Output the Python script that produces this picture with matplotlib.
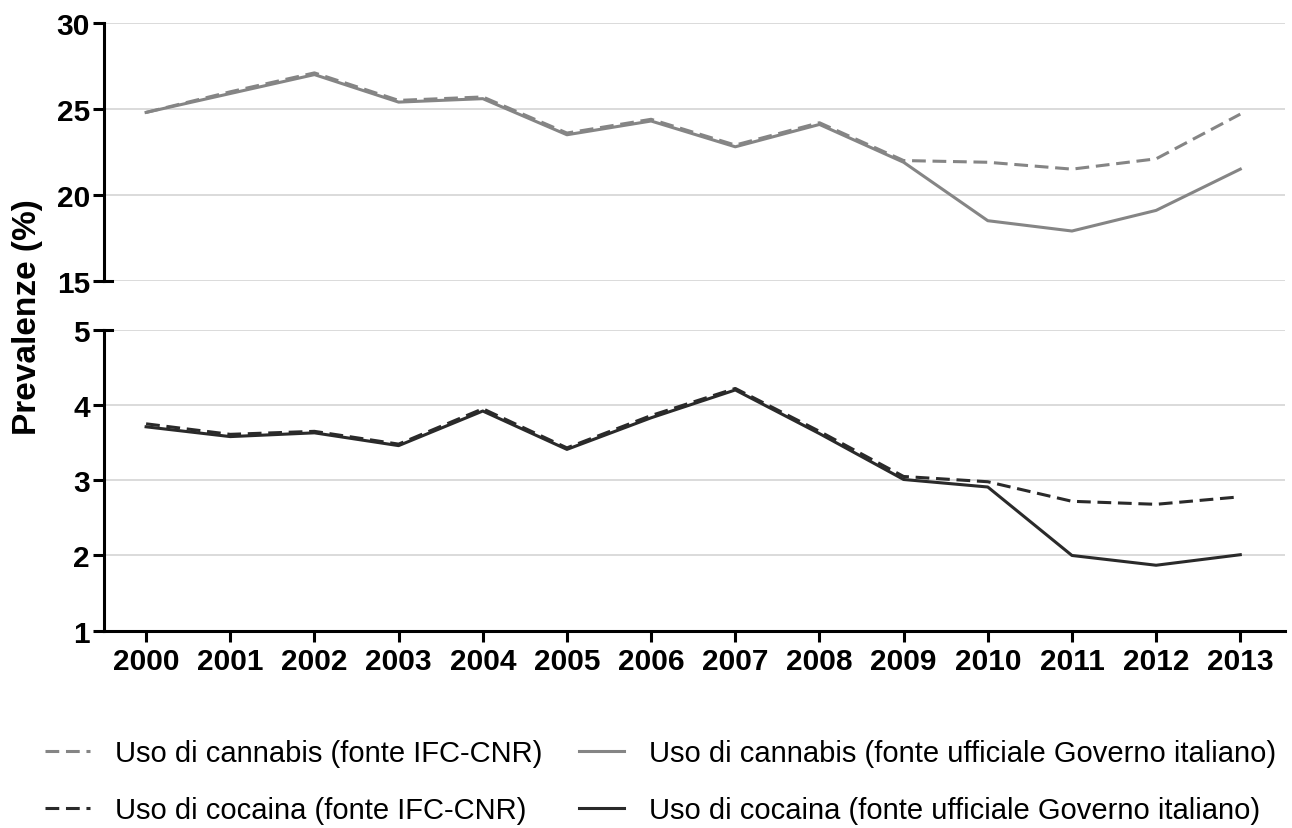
import matplotlib
matplotlib.use("Agg")
import matplotlib.pyplot as plt
from matplotlib.lines import Line2D

plt.rcParams['font.family'] = ['Liberation Sans', 'DejaVu Sans']

years = list(range(2000, 2014))

# cannabis, %
cannabis_ifc = [24.8, 26.0, 27.1, 25.5, 25.7, 23.6, 24.4, 22.9, 24.2, 22.0, 21.9, 21.5, 22.1, 24.7]
cannabis_gov = [24.8, 25.9, 27.0, 25.4, 25.6, 23.5, 24.3, 22.8, 24.1, 21.9, 18.5, 17.9, 19.1, 21.5]

# cocaina, %
cocaina_ifc = [3.75, 3.61, 3.65, 3.48, 3.95, 3.43, 3.86, 4.22, 3.65, 3.05, 2.98, 2.72, 2.68, 2.78]
cocaina_gov = [3.71, 3.58, 3.63, 3.46, 3.92, 3.41, 3.83, 4.20, 3.62, 3.01, 2.91, 2.00, 1.87, 2.01]

grey = '#858585'
dark = '#2a2a2a'
grid_c = '#d4d4d4'
dash = (0, (4.5, 2.2))

fig = plt.figure(figsize=(12.92, 8.29), dpi=100)
ax1 = fig.add_axes([0.0805, 0.660, 0.914, 0.311])
ax2 = fig.add_axes([0.0805, 0.238, 0.914, 0.363], sharex=ax1)

xmin, xmax = 1999.5, 2013.53

ax1.plot(years, cannabis_gov, color=grey, lw=2.2)
ax1.plot(years, cannabis_ifc, color=grey, lw=2.2, ls=dash)
ax2.plot(years, cocaina_gov, color=dark, lw=2.2)
ax2.plot(years, cocaina_ifc, color=dark, lw=2.2, ls=dash)

ax1.set_ylim(15, 30)
ax1.set_yticks([15, 20, 25, 30])
ax2.set_ylim(1, 5)
ax2.set_yticks([1, 2, 3, 4, 5])
ax1.set_xlim(xmin, xmax)

for ax in (ax1, ax2):
    ax.spines['right'].set_visible(False)
    ax.spines['left'].set_linewidth(2.2)
    ax.yaxis.grid(True, color=grid_c, lw=1.2)
    ax.set_axisbelow(True)
    ax.tick_params(axis='y', length=8, width=2.2, labelsize=21.5, pad=2)
    for lab in ax.get_yticklabels():
        lab.set_fontweight('bold')

ax1.spines['top'].set_visible(False)
ax1.spines['bottom'].set_linewidth(2.2)
ax1.spines['bottom'].set_bounds(xmin, xmin + 0.1)
ax1.tick_params(axis='x', bottom=False, labelbottom=False)

ax2.spines['top'].set_linewidth(2.2)
ax2.spines['top'].set_bounds(xmin, xmin + 0.1)
ax2.spines['bottom'].set_linewidth(2.2)
ax2.set_xticks(years)
ax2.tick_params(axis='x', length=8, width=2.2, labelsize=21.5, pad=4)
for lab in ax2.get_xticklabels():
    lab.set_fontweight('bold')

fig.text(0.021, 0.617, 'Prevalenze (%)', rotation=90, fontsize=24,
         fontweight='bold', ha='center', va='center')

handles = [
    Line2D([], [], color=grey, lw=2.2, ls=dash),
    Line2D([], [], color=dark, lw=2.2, ls=dash),
    Line2D([], [], color=grey, lw=2.2),
    Line2D([], [], color=dark, lw=2.2),
]
labels = [
    'Uso di cannabis (fonte IFC-CNR)',
    'Uso di cocaina (fonte IFC-CNR)',
    'Uso di cannabis (fonte ufficiale Governo italiano)',
    'Uso di cocaina (fonte ufficiale Governo italiano)',
]
fig.legend(handles, labels, ncol=2, loc='center left', bbox_to_anchor=(0.0348, 0.056),
           frameon=False, fontsize=21, handlelength=1.55, handletextpad=0.85,
           columnspacing=1.25, labelspacing=1.0, borderpad=0, borderaxespad=0)

fig.savefig('out.png', dpi=100)
